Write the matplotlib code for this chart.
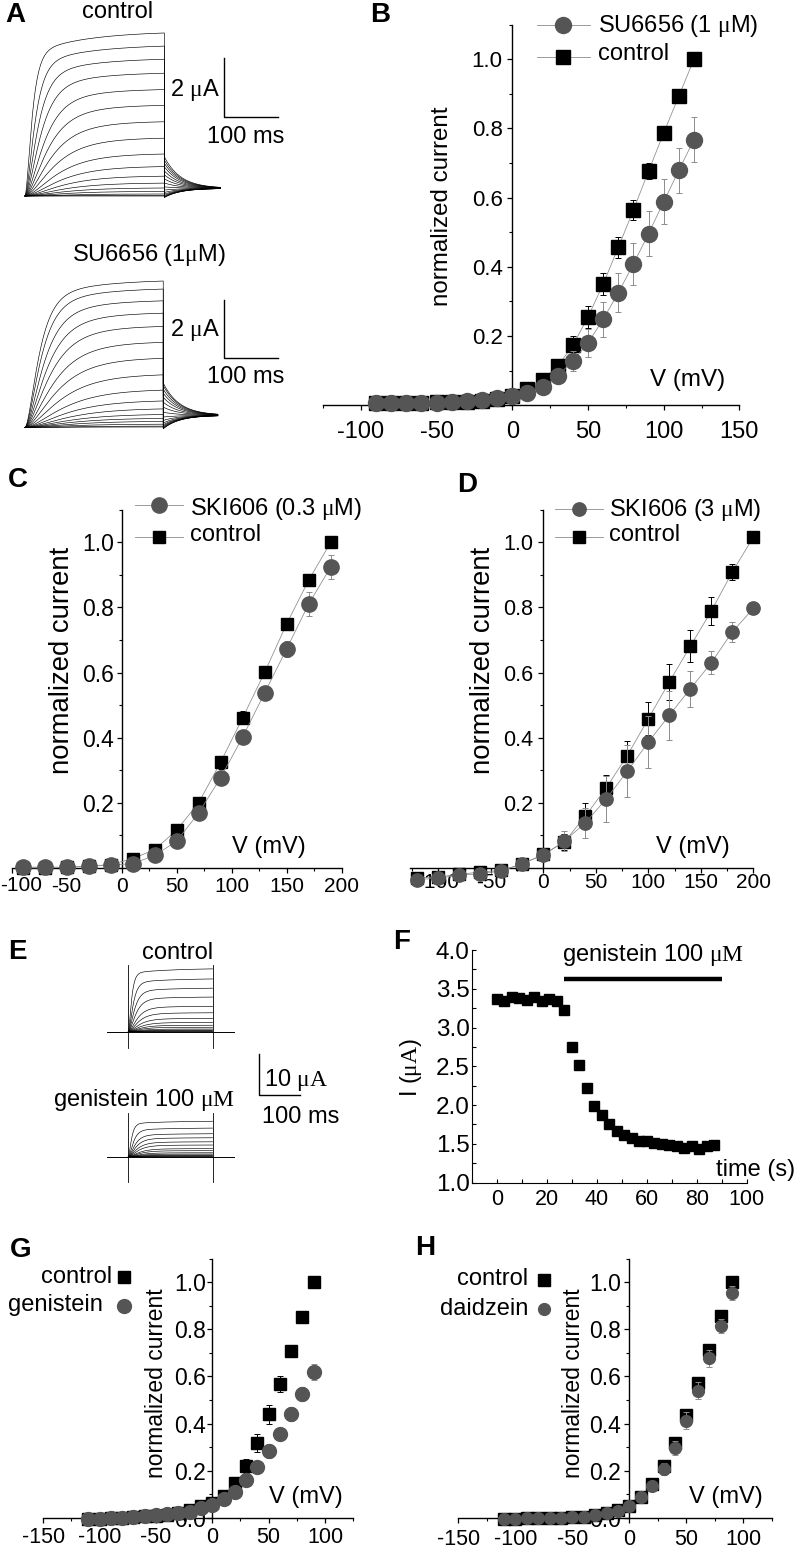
import numpy as np
import matplotlib.pyplot as plt
from matplotlib.ticker import MultipleLocator, FixedLocator, FuncFormatter

W, H = 797, 1549

plt.rcParams['font.family'] = ['Liberation Sans', 'DejaVu Sans']
plt.rcParams['mathtext.fontset'] = 'custom'
plt.rcParams['mathtext.rm'] = 'Liberation Serif'
plt.rcParams['mathtext.it'] = 'Liberation Serif:italic'
plt.rcParams['mathtext.bf'] = 'Liberation Serif:bold'
plt.rcParams['axes.unicode_minus'] = False

GRIS = '#555555'
GRIS_ERR = '#8c8c8c'
GRIS_LINEA = '#8a8a8a'

# ---------------- datos ----------------
# A: corriente al final del pulso (uA), una por registro
amp_ctrl_a = [5.59, 5.14, 4.69, 4.21, 3.65, 3.11, 2.55, 1.99, 1.45, 1.02,
              0.69, 0.45, 0.28, 0.16, 0.07, 0.02, 0.0]
amp_su_a = [5.11, 4.83, 4.42, 3.99, 3.53, 2.98, 2.43, 1.86, 1.33, 0.95,
            0.67, 0.47, 0.33, 0.22, 0.12, 0.05, 0.02]

# B
v_b = [-90, -80, -70, -60, -50, -40, -30, -20, -10, 0, 10, 20, 30, 40, 50,
       60, 70, 80, 90, 100, 110, 120]
ctrl_b = [0.005, 0.006, 0.006, 0.007, 0.008, 0.009, 0.01, 0.013, 0.018, 0.028,
          0.048, 0.074, 0.113, 0.173, 0.255, 0.35, 0.456, 0.564, 0.677, 0.787,
          0.894, 1.0]
ctrl_b_err = [0.002] * 9 + [0.003, 0.005, 0.008, 0.012, 0.027, 0.032, 0.031,
                            0.03, 0.03, 0.024, 0.017, 0.012, 0.01]
su_b = [0.005, 0.005, 0.005, 0.006, 0.006, 0.01, 0.013, 0.016, 0.021, 0.026,
        0.036, 0.053, 0.085, 0.128, 0.18, 0.248, 0.325, 0.408, 0.496, 0.588,
        0.679, 0.768]
su_b_err = [0.002] * 9 + [0.004, 0.006, 0.01, 0.015, 0.028, 0.04, 0.05,
                          0.057, 0.06, 0.065, 0.065, 0.065, 0.065]

# C
v_c = [-90, -70, -50, -30, -10, 10, 30, 50, 70, 90, 110, 130, 150, 170, 190]
ctrl_c = [0.0, 0.0, 0.001, 0.005, 0.01, 0.028, 0.056, 0.116, 0.2, 0.325,
          0.461, 0.601, 0.75, 0.884, 1.0]
ctrl_c_err = [0.002] * 6 + [0.005, 0.008, 0.01, 0.02, 0.02, 0.012, 0.01,
                            0.01, 0.01]
ski03_c = [0.002, 0.002, 0.002, 0.005, 0.008, 0.013, 0.038, 0.082, 0.169,
           0.277, 0.402, 0.538, 0.673, 0.811, 0.924]
ski03_c_err = [0.002] * 6 + [0.004, 0.006, 0.008, 0.01, 0.01, 0.012, 0.025,
                             0.036, 0.038]

# D
v_d = [-120, -100, -80, -60, -40, -20, 0, 20, 40, 60, 80, 100, 120, 140,
       160, 180, 200]
ctrl_d = [-0.031, -0.028, -0.02, -0.013, -0.008, 0.012, 0.041, 0.079, 0.159,
          0.246, 0.345, 0.458, 0.571, 0.681, 0.789, 0.909, 1.016]
ctrl_d_err = [0.003] * 6 + [0.005, 0.025, 0.04, 0.04, 0.045, 0.05, 0.055,
                            0.05, 0.042, 0.025, 0.005]
ski3_d = [-0.036, -0.032, -0.023, -0.018, -0.01, 0.013, 0.039, 0.082, 0.138,
          0.212, 0.297, 0.386, 0.469, 0.55, 0.63, 0.725, 0.797]
ski3_d_err = [0.003] * 6 + [0.005, 0.03, 0.045, 0.07, 0.08, 0.08, 0.075,
                            0.055, 0.035, 0.03, 0.005]

# E: corriente al final del pulso (uA)
amp_ctrl_e = [15.6, 13.1, 10.8, 8.6, 6.3, 4.7, 3.3, 2.3, 1.6, 1.1, 0.66,
              0.4, 0.25, 0.12, 0.05]
amp_gen_e = [8.8, 7.1, 5.7, 4.7, 3.7, 2.9, 2.0, 1.5, 0.98, 0.66, 0.41, 0.25,
             0.12, 0.05]

# F
t_f = [0, 3, 6, 9, 12, 15, 18, 21, 24, 27, 30, 33, 36, 39, 42, 45, 48, 51,
       54, 57, 60, 63, 66, 69, 72, 75, 78, 81, 84, 87]
i_f = [3.37, 3.34, 3.40, 3.38, 3.35, 3.39, 3.34, 3.37, 3.34, 3.22, 2.75,
       2.51, 2.22, 1.99, 1.87, 1.76, 1.67, 1.61, 1.57, 1.53, 1.53, 1.51, 1.50,
       1.48, 1.47, 1.44, 1.47, 1.43, 1.47, 1.48]
genisteina_t = [27, 90]
genisteina_nivel = 3.62

# G
v_g = [-110, -100, -90, -80, -70, -60, -50, -40, -30, -20, -10, 0, 10, 20,
       30, 40, 50, 60, 70, 80, 90]
ctrl_g = [-0.004, -0.004, -0.002, 0.0, 0.002, 0.006, 0.009, 0.012, 0.02,
          0.034, 0.05, 0.064, 0.093, 0.146, 0.22, 0.319, 0.439, 0.568, 0.709,
          0.854, 1.0]
ctrl_g_err = [0.003] * 12 + [0.008, 0.02, 0.03, 0.038, 0.04, 0.033, 0.015,
                             0.01, 0.008]
gen_g = [-0.005, -0.005, -0.003, 0.0, 0.001, 0.007, 0.01, 0.014, 0.018,
         0.025, 0.04, 0.054, 0.078, 0.11, 0.16, 0.217, 0.283, 0.355, 0.439,
         0.525, 0.62]
gen_g_err = [0.003] * 12 + [0.008, 0.012, 0.015, 0.025, 0.03, 0.025, 0.03,
                            0.03, 0.035]

# H
v_h = v_g
ctrl_h = [-0.004, -0.004, -0.003, -0.002, -0.001, 0.0, 0.002, 0.005, 0.011,
          0.018, 0.033, 0.051, 0.089, 0.142, 0.219, 0.316, 0.436, 0.571,
          0.712, 0.858, 1.0]
ctrl_h_err = [0.003] * 12 + [0.008, 0.012, 0.02, 0.025, 0.025, 0.02, 0.015,
                             0.01, 0.008]
dai_h = [-0.004, -0.004, -0.003, -0.002, -0.001, 0.0, 0.002, 0.005, 0.011,
         0.018, 0.03, 0.051, 0.086, 0.136, 0.208, 0.297, 0.412, 0.54, 0.677,
         0.814, 0.953]
dai_h_err = [0.003] * 12 + [0.008, 0.015, 0.025, 0.03, 0.035, 0.035, 0.035,
                            0.03, 0.03]

fig = plt.figure(figsize=(W / 100, H / 100), dpi=100)


def ejes(xlim, x0, sx, ylim, y0, sy):
    # x0 / y0: pixel donde cae el valor 0; sx / sy: pixeles por unidad
    izq = x0 + xlim[0] * sx
    der = x0 + xlim[1] * sx
    arriba = y0 - ylim[1] * sy
    abajo = y0 - ylim[0] * sy
    ax = fig.add_axes([izq / W, 1 - abajo / H, (der - izq) / W, (abajo - arriba) / H])
    ax.set_xlim(xlim)
    ax.set_ylim(ylim)
    ax.patch.set_alpha(0)
    return ax


def estilo_iv(ax, yticks, xsize, ysize, xpad, ypad):
    ax.spines['top'].set_visible(False)
    ax.spines['right'].set_visible(False)
    ax.spines['left'].set_position(('data', 0))
    ax.spines['bottom'].set_position(('data', 0))
    ax.spines['left'].set_bounds(0, 1.1)
    for s in ['left', 'bottom']:
        ax.spines[s].set_linewidth(1.0)
    ax.xaxis.set_major_locator(MultipleLocator(50))
    ax.xaxis.set_minor_locator(MultipleLocator(25))
    ax.yaxis.set_major_locator(FixedLocator(yticks))
    ax.yaxis.set_minor_locator(MultipleLocator(0.1))
    ax.set_yticklabels(['%.1f' % y for y in yticks])
    ax.tick_params(axis='both', which='major', direction='out', length=3.5, width=0.9)
    ax.tick_params(axis='both', which='minor', direction='out', length=2, width=0.8)
    ax.tick_params(axis='x', labelsize=xsize, pad=xpad)
    ax.tick_params(axis='y', labelsize=ysize, pad=ypad)


def serie(ax, v, y, err, marker, color, ecolor, ms, linea, z):
    ax.errorbar(v, y, yerr=err, fmt='none', ecolor=ecolor, elinewidth=0.7,
                capsize=2, capthick=0.7, zorder=z, clip_on=False)
    ax.plot(v, y, linestyle='-' if linea else 'none', color=GRIS_LINEA, lw=0.55,
            marker=marker, ms=ms, mfc=color, mec=color, zorder=z + 1, clip_on=False)


def corriente(t, amp, tau, lento):
    return amp * ((1 - lento) * (1 - np.exp(-t / tau)) ** 2 + lento * (1 - np.exp(-t / 100.0)))


def registros(ax, amps, T, tau_min, tau_max, cola_max, cola_base, dur_cola):
    amax = max(amps)
    t = np.linspace(0, T, 400)
    tc = np.linspace(0, dur_cola, 200)
    for a in amps:
        tau = tau_min + (tau_max - tau_min) * (1 - a / amax)
        paso = corriente(t, a, tau, 0.15)
        c0 = -0.05 + (cola_max + 0.05) * a / amax
        cola = cola_base + (c0 - cola_base) * np.exp(-tc / 30.0)
        ax.plot(np.r_[t, T + tc], np.r_[paso, cola], color='k', lw=0.45)


# ---------------- A ----------------
ax_a1 = ejes((-18, 490), 25, 0.54, (-0.5, 6.0), 196, 29.5)
ax_a1.axis('off')
registros(ax_a1, amp_ctrl_a, 258, 10, 60, 1.33, 0.26, 104)
ax_a1.plot([368.5, 368.5, 468.5], [4.68, 2.68, 2.68], color='k', lw=1.0)

ax_a2 = ejes((-18, 490), 25, 0.54, (-0.5, 5.5), 427.5, 29)
ax_a2.axis('off')
registros(ax_a2, amp_su_a, 256, 20, 70, 1.53, 0.42, 101)
ax_a2.plot([368.5, 368.5, 468.5], [4.4, 2.4, 2.4], color='k', lw=1.0)

# ---------------- B ----------------
ax_b = ejes((-125, 150), 512.3, 1.514, (-0.03, 1.1), 405.2, 345.9)
estilo_iv(ax_b, [0.2, 0.4, 0.6, 0.8, 1.0], 17, 16, 8, 3.5)
serie(ax_b, v_b, ctrl_b, ctrl_b_err, 's', 'k', 'k', 10.5, True, 3)
serie(ax_b, v_b, su_b, su_b_err, 'o', GRIS, GRIS_ERR, 11.5, True, 5)

# ---------------- C ----------------
ax_c = ejes((-100, 200), 121.7, 1.1, (-0.03, 1.1), 867.8, 325.4)
estilo_iv(ax_c, [0.2, 0.4, 0.6, 0.8, 1.0], 15, 16.5, 3, 2)
# la etiqueta -100 queda en el borde: se escribe aparte
ax_c.xaxis.set_major_formatter(FuncFormatter(lambda v, p: '' if v < -99 else '%d' % v))
serie(ax_c, v_c, ctrl_c, ctrl_c_err, 's', 'k', 'k', 9, True, 3)
serie(ax_c, v_c, ski03_c, ski03_c_err, 'o', GRIS, GRIS_ERR, 11, True, 5)

# ---------------- D ----------------
ax_d = ejes((-127, 200), 543.3, 1.05, (-0.06, 1.1), 867.8, 325.4)
estilo_iv(ax_d, [0.2, 0.4, 0.6, 0.8, 1.0], 15, 15.5, 0.3, 4)
serie(ax_d, v_d, ctrl_d, ctrl_d_err, 's', 'k', 'k', 9, True, 3)
serie(ax_d, v_d, ski3_d, ski3_d_err, 'o', GRIS, GRIS_ERR, 9.6, True, 5)

# ---------------- E ----------------
for amps, y0, abajo, arriba in [(amp_ctrl_e, 1031.7, -4.1, 16.4),
                                (amp_gen_e, 1156.7, -6.3, 10.7)]:
    ax_e = ejes((-60, 450), 128.3, 0.413, (-8, 18), y0, 4.07)
    ax_e.axis('off')
    t = np.linspace(0, 204, 300)
    amax = max(amps)
    for a in amps:
        tau = 6 + 18 * (1 - a / amax)
        ax_e.plot(t, corriente(t, a, tau, 0.08), color='k', lw=0.45)
    ax_e.plot([-50.8, 256.7], [0, 0], color='k', lw=0.7)
    ax_e.plot([0, 0], [abajo, arriba], color='k', lw=0.6)
    ax_e.plot([204, 204], [abajo, arriba], color='k', lw=0.6)
ax_e.plot([315.7, 315.7, 415.7], [25.2, 15.16, 15.16], color='k', lw=1.0, clip_on=False)

# ---------------- F ----------------
ax_f = ejes((-10, 100), 496.7, 2.5, (1, 4), 1260, 77.5)
ax_f.spines['top'].set_visible(False)
ax_f.spines['right'].set_visible(False)
ax_f.xaxis.set_major_locator(MultipleLocator(20))
ax_f.xaxis.set_minor_locator(MultipleLocator(10))
ax_f.yaxis.set_major_locator(MultipleLocator(0.5))
ax_f.yaxis.set_minor_locator(MultipleLocator(0.25))
ax_f.yaxis.set_major_formatter(plt.FormatStrFormatter('%.1f'))
ax_f.tick_params(axis='both', which='both', direction='in', length=3, width=0.8)
ax_f.tick_params(axis='x', labelsize=15.5, pad=5)
ax_f.tick_params(axis='y', labelsize=17.5, pad=1.5)
ax_f.plot(t_f, i_f, 's', color='k', ms=6.5, clip_on=False)
ax_f.plot(genisteina_t, [genisteina_nivel] * 2, color='k', lw=3.2, solid_capstyle='butt')

# ---------------- G ----------------
ax_g = ejes((-150, 125), 212.3, 1.127, (-0.03, 1.1), 1517.7, 235.4)
estilo_iv(ax_g, [0.0, 0.2, 0.4, 0.6, 0.8, 1.0], 15.5, 16.5, 3.5, 1)
serie(ax_g, v_g, ctrl_g, ctrl_g_err, 's', 'k', 'k', 9, False, 3)
serie(ax_g, v_g, gen_g, gen_g_err, 'o', GRIS, GRIS_ERR, 10, False, 5)

# ---------------- H ----------------
ax_h = ejes((-150, 125), 629.3, 1.14, (-0.03, 1.1), 1517.7, 235.4)
estilo_iv(ax_h, [0.0, 0.2, 0.4, 0.6, 0.8, 1.0], 15.5, 16.5, 4.5, 2.5)
serie(ax_h, v_h, ctrl_h, ctrl_h_err, 's', 'k', 'k', 8.5, False, 3)
serie(ax_h, v_h, dai_h, dai_h_err, 'o', GRIS, GRIS_ERR, 8.5, False, 5)

# ---------------- textos y leyendas (coordenadas en pixeles) ----------------
ov = fig.add_axes([0, 0, 1, 1])
ov.set_xlim(0, W)
ov.set_ylim(H, 0)
ov.axis('off')


def texto(x, y, s, size=17, ha='center', va='center', **kw):
    ov.text(x, y, s, fontsize=size, ha=ha, va=va, **kw)


def muestra(x, y, marker, color, ms, x0=None, x1=None):
    if x0 is not None:
        ov.plot([x0, x1], [y, y], color=GRIS_LINEA, lw=0.6)
    ov.plot([x], [y], marker=marker, color=color, ms=ms, linestyle='none')


for letra, x, y in [('A', 5, 15), ('B', 370, 15), ('C', 8, 480), ('D', 457, 485),
                    ('E', 8, 952), ('F', 393, 942), ('G', 10, 1250), ('H', 415, 1248)]:
    texto(x, y, letra, size=20, ha='left', fontweight='bold')

# A
texto(118, 12, 'control')
texto(149, 255, r'SU6656 (1$\mathrm{\mu}$M)')
for yb in (90, 330):
    texto(220, yb, r'2 $\mathrm{\mu}$A', ha='right')
for yb in (137, 377):
    texto(246, yb, '100 ms')

# B
texto(441.7, 206.7, 'normalized current', size=17.4, rotation=90)
texto(687.5, 380, 'V (mV)', size=17.4)
muestra(563, 25, 'o', GRIS, 11.5, 537, 590)
texto(598, 26, r'SU6656 (1 $\mathrm{\mu}$M)', ha='left')
muestra(563, 57, 's', 'k', 10.5, 537, 590)
texto(598, 54, 'control', ha='left')

# C
texto(61.7, 660, 'normalized current', size=19.8, rotation=90)
texto(269, 846.7, 'V (mV)')
texto(0, 885, '-100', size=15, ha='left')
muestra(159, 505, 'o', GRIS, 11, 135, 183)
texto(190, 509, r'SKI606 (0.3 $\mathrm{\mu}$M)', ha='left')
muestra(159, 537, 's', 'k', 9, 135, 183)
texto(190, 535, 'control', ha='left')

# D
texto(483.3, 660, 'normalized current', size=19.8, rotation=90)
texto(692.5, 846.7, 'V (mV)')
muestra(579.3, 509, 'o', GRIS, 9.6, 555, 603)
texto(609, 510, r'SKI606 (3 $\mathrm{\mu}$M)', ha='left')
muestra(579.3, 537, 's', 'k', 9, 555, 603)
texto(609, 535, 'control', ha='left')

# E
texto(213, 953, 'control', ha='right')
texto(235, 1100, r'genistein 100 $\mathrm{\mu M}$', ha='right')
texto(264, 1080, r'10 $\mathrm{\mu A}$', ha='left')
texto(262, 1117, '100 ms', ha='left')

# F
texto(562, 955, r'genistein 100 $\mathrm{\mu M}$', ha='left')
texto(795, 1170, 'time (s)', ha='right')
texto(411, 1067, r'I ($\mathrm{\mu A}$)', rotation=90)

# G
texto(156.7, 1383, 'normalized current', size=16.5, rotation=90)
texto(305.5, 1496.7, 'V (mV)')
texto(112, 1277, 'control', ha='right')
muestra(124.3, 1277, 's', 'k', 9)
texto(103, 1305, 'genistein', ha='right')
muestra(124.3, 1306, 'o', GRIS, 10)

# H
texto(573.3, 1383, 'normalized current', size=16.5, rotation=90)
texto(726, 1496.7, 'V (mV)')
texto(528, 1279, 'control', ha='right')
muestra(544, 1280, 's', 'k', 8.5)
texto(528, 1309, 'daidzein', ha='right')
muestra(544, 1309, 'o', GRIS, 8.5)

fig.savefig('out.png', dpi=100)
